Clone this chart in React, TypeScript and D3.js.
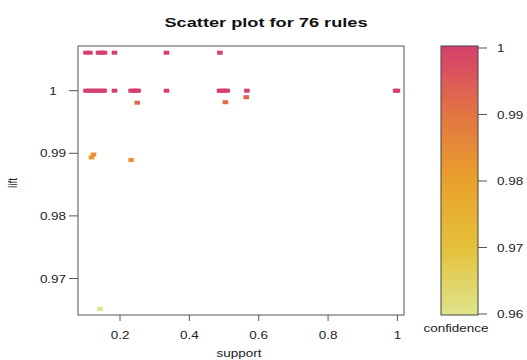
import React from 'react'
import * as d3 from 'd3'

// rules: support / lift / confidence
const supportVals = [
  0.102, 0.113, 0.138, 0.147, 0.155, 0.184, 0.334, 0.488,
  0.102, 0.110, 0.118, 0.126, 0.134, 0.142, 0.150, 0.154, 0.184, 0.232, 0.239, 0.246, 0.252,
  0.334, 0.487, 0.494, 0.502, 0.509, 0.566, 0.995, 1.0,
  0.2496, 0.504, 0.564,
  0.1235, 0.1177, 0.232,
  0.142,
]
const liftVals = [
  1.00607, 1.00607, 1.00607, 1.00607, 1.00607, 1.00607, 1.00607, 1.00607,
  1, 1, 1, 1, 1, 1, 1, 1, 1, 1, 1, 1, 1,
  1, 1, 1, 1, 1, 1, 1, 1,
  0.99808, 0.99816, 0.99896,
  0.98981, 0.98933, 0.98893,
  0.96514,
]
const confidenceVals = [
  1, 1, 1, 1, 1, 1, 1, 1,
  1, 1, 1, 1, 1, 1, 1, 1, 1, 1, 1, 1, 1,
  1, 1, 1, 1, 1, 1, 1, 1,
  0.992, 0.992, 0.993,
  0.9835, 0.983, 0.9828,
  0.9598,
]

const xTicks = [0.2, 0.4, 0.6, 0.8, 1]
const yTicks = [0.97, 0.98, 0.99, 1]
const confTicks = [0.96, 0.97, 0.98, 0.99, 1]
const confStops = [0.96, 0.97, 0.98, 0.99, 1]
const confColors = ['#DEE48C', '#E4C13A', '#E9A12B', '#E27444', '#D63F6C']

const W = 527
const H = 360
const plot = { left: 78, right: 404, top: 46, bottom: 315 }
const bar = { left: 441, right: 478, top: 46, bottom: 315 }
const font = 'Liberation Sans, Arial, sans-serif'
const sx = 1.35 // text in the picture is stretched sideways

const App = () => {
  const xScale = d3.scaleLinear().domain([0.0788, 1.019]).range([plot.left, plot.right])
  const yScale = d3.scaleLinear().domain([0.96417, 1.00714]).range([plot.bottom, plot.top])
  const color = d3.scaleLinear<string>().domain(confStops).range(confColors).clamp(true)
  const cbScale = d3.scaleLinear().domain([0.96, 1]).range([314, 48])

  const pts = supportVals.map((s, i) => ({ s, l: liftVals[i], c: confidenceVals[i] }))
  const gradStops = d3.range(0, 1.0001, 0.05)

  const label = (x: number, y: number, text: string, size: number, anchor: string, extra = {}, k = sx) => (
    <text
      transform={`translate(${x},${y}) scale(${k},1)`}
      fontSize={size}
      fontFamily={font}
      textAnchor={anchor}
      fill="#222"
      {...extra}
    >
      {text}
    </text>
  )

  return (
    <svg width={W} height={H} style={{ position: 'absolute', left: 0, top: 0, background: '#fff' }}>
      <defs>
        <linearGradient id="confGrad" x1="0" y1="1" x2="0" y2="0">
          {gradStops.map((t) => (
            <stop key={t} offset={t} stopColor={color(0.96 + t * 0.04)} />
          ))}
        </linearGradient>
      </defs>

      {label(266, 27, 'Scatter plot for 76 rules', 13, 'middle', { fontWeight: 'bold', fill: '#111' }, 1.4)}

      <rect
        x={plot.left}
        y={plot.top}
        width={plot.right - plot.left}
        height={plot.bottom - plot.top}
        fill="none"
        stroke="#555"
      />

      {xTicks.map((t) => (
        <g key={t}>
          <line x1={xScale(t)} x2={xScale(t)} y1={plot.bottom} y2={plot.bottom + 6} stroke="#555" />
          {label(xScale(t), 339, String(t), 10, 'middle')}
        </g>
      ))}
      {yTicks.map((t) => (
        <g key={t}>
          <line x1={plot.left - 9} x2={plot.left} y1={yScale(t)} y2={yScale(t)} stroke="#555" />
          {label(53, yScale(t) + 4, String(t), 10, 'middle')}
        </g>
      ))}
      {label(239, 357, 'support', 10, 'middle')}
      <text
        transform={`translate(17,183) rotate(-90) scale(1,${sx})`}
        fontSize={10}
        fontFamily={font}
        textAnchor="middle"
        fill="#222"
      >
        lift
      </text>

      {pts.map((d, i) => (
        <rect
          key={i}
          x={xScale(d.s) - 2.8}
          y={yScale(d.l) - 2}
          width={5.6}
          height={4}
          fill={color(d.c)}
        />
      ))}

      <rect
        x={bar.left}
        y={bar.top}
        width={bar.right - bar.left}
        height={bar.bottom - bar.top}
        fill="url(#confGrad)"
        stroke="#444"
      />
      {confTicks.map((t) => (
        <g key={t}>
          <line x1={bar.right} x2={bar.right + 9} y1={cbScale(t)} y2={cbScale(t)} stroke="#555" />
          {label(bar.right + 19, cbScale(t) + 4, String(t), 10, 'start')}
        </g>
      ))}
      {label(456, 332, 'confidence', 10, 'middle')}
    </svg>
  )
}

export default App
